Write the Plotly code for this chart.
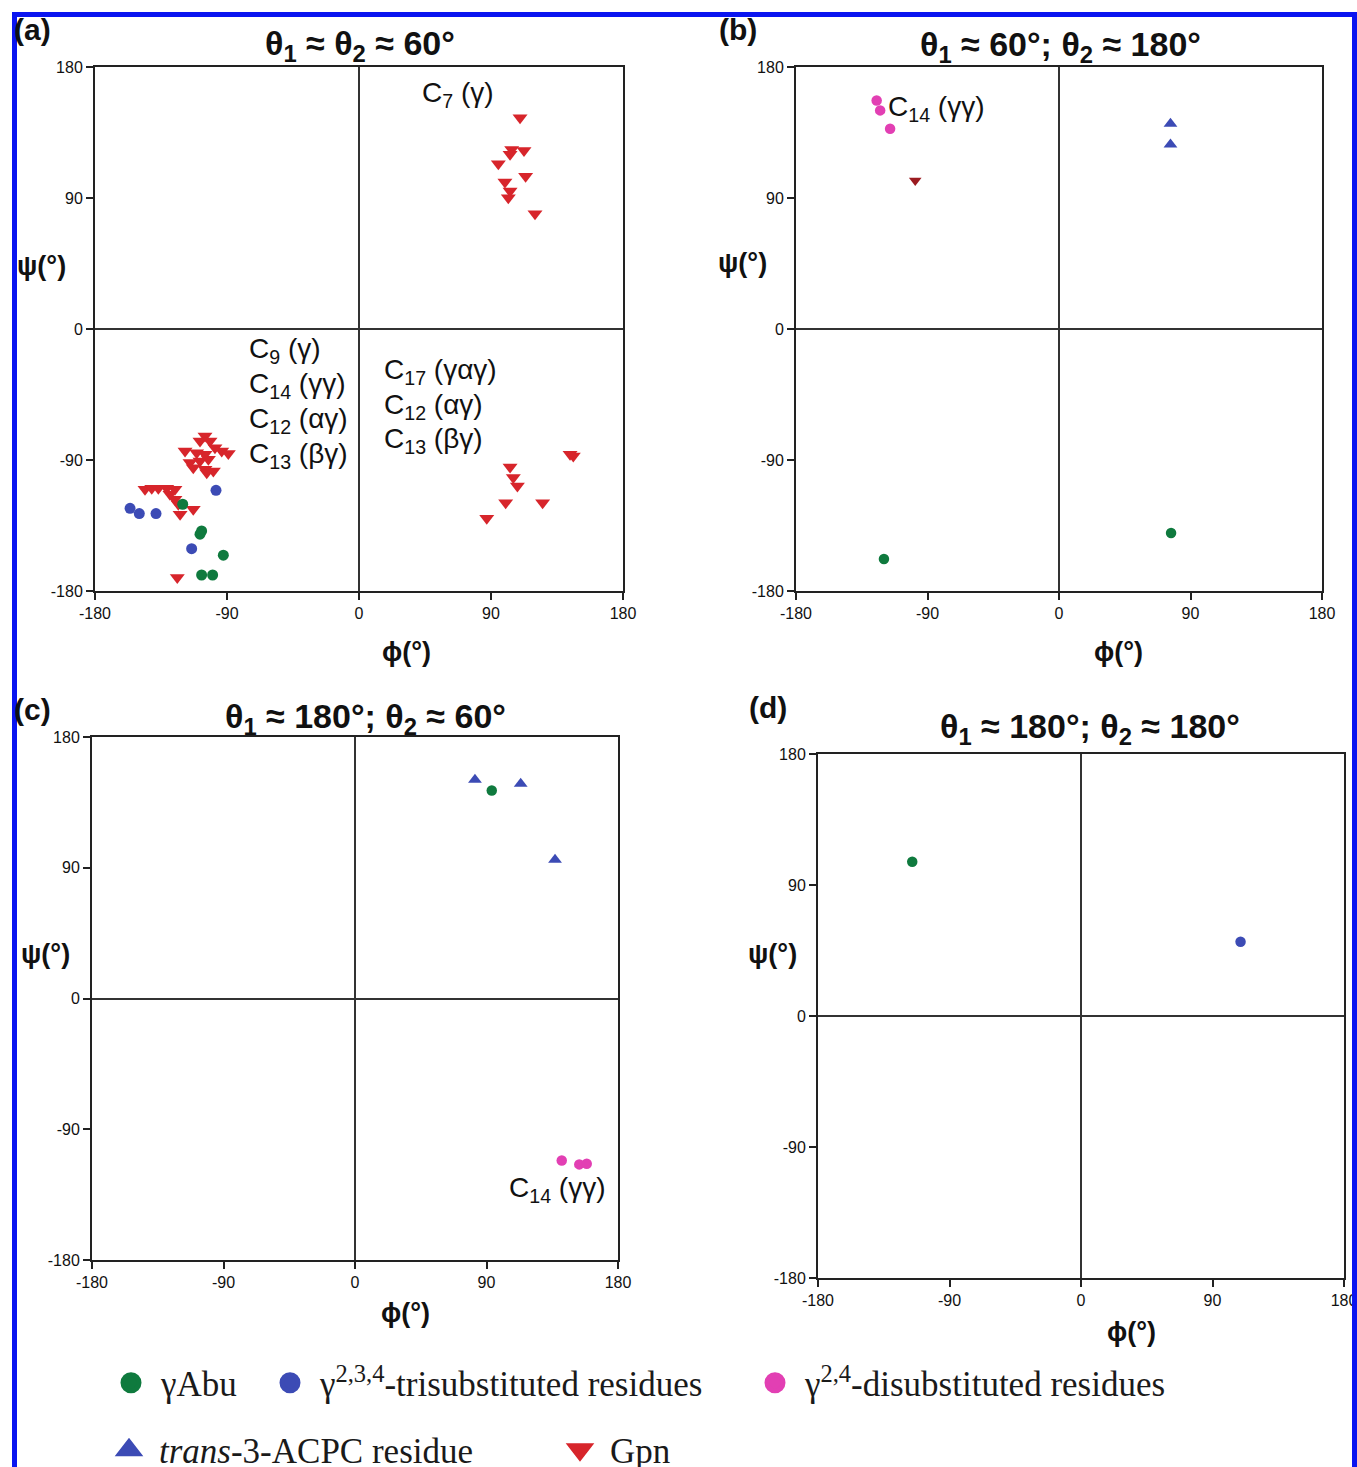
import plotly.graph_objects as go

W, H = 1357, 1467

# ---------------- data ----------------
# Panel (a): theta1 ~ theta2 ~ 60
a_gpn_phi = [109.8, 104.1, 103.0, 112.5, 95.0, 113.6, 99.5, 103.0, 101.8, 120.0,
             146.1, 143.9, 103.0, 105.2, 108.0, 100.0, 125.2, 87.1,
             -105.0, -108.4, -101.6, -98.2, -118.6, -110.7, -105.0, -93.6, -89.1,
             -115.2, -108.4, -102.7, -113.0, -105.0, -99.3, -103.8,
             -145.9, -141.3, -136.8, -131.1, -125.5, -128.9, -125.5, -123.2,
             -113.0, -122.0, -123.9]
a_gpn_psi = [145.1, 123.4, 120.0, 122.7, 113.5, 105.0, 101.0, 94.8, 90.2, 79.2,
             -87.2, -86.1, -94.8, -102.1, -107.8, -119.3, -119.3, -130.0,
             -73.5, -76.9, -76.9, -81.5, -83.8, -85.0, -86.1, -83.8, -85.6,
             -91.8, -90.7, -89.5, -95.3, -96.4, -97.5, -98.7,
             -110.1, -109.4, -109.4, -109.4, -110.1, -113.5, -117.0, -120.4,
             -123.8, -127.3, -170.8]
a_abu_phi = [-120.2, -107.3, -108.4, -92.5, -107.3, -99.8]
a_abu_psi = [-120.4, -138.7, -141.0, -155.4, -169.0, -169.0]
a_tri_phi = [-97.5, -156.1, -149.8, -138.4, -114.1]
a_tri_psi = [-110.8, -123.2, -126.8, -126.8, -150.9]

# Panel (b): theta1 ~ 60; theta2 ~ 180
b_di_phi = [-124.8, -122.4, -115.6]
b_di_psi = [157.0, 150.2, 137.6]
b_gpn_phi = [-98.4]
b_gpn_psi = [102.1]
b_acpc_phi = [76.3, 76.3]
b_acpc_psi = [141.0, 126.8]
b_abu_phi = [-119.8, 76.7]
b_abu_psi = [-158.0, -140.1]

# Panel (c): theta1 ~ 180; theta2 ~ 60
c_acpc_phi = [82.1, 113.4, 136.9]
c_acpc_psi = [150.5, 147.8, 95.5]
c_abu_phi = [93.6]
c_abu_psi = [143.2]
c_di_phi = [141.5, 153.5, 158.6]
c_di_psi = [-111.5, -114.2, -113.8]

# Panel (d): theta1 ~ 180; theta2 ~ 180
d_abu_phi = [-115.5]
d_abu_psi = [106.0]
d_tri_phi = [109.2]
d_tri_psi = [51.0]

tick_vals = [-180, -90, 0, 90, 180]
tick_text = ["-180", "-90", "0", "90", "180"]

panel_titles = ["θ<sub>1</sub> ≈ θ<sub>2</sub> ≈ 60°",
                "θ<sub>1</sub> ≈ 60°; θ<sub>2</sub> ≈ 180°",
                "θ<sub>1</sub> ≈ 180°; θ<sub>2</sub> ≈ 60°",
                "θ<sub>1</sub> ≈ 180°; θ<sub>2</sub> ≈ 180°"]
panel_letters = ["(a)", "(b)", "(c)", "(d)"]

legend_labels = ["γAbu", "γ<sup>2,3,4</sup>-trisubstituted residues",
                 "γ<sup>2,4</sup>-disubstituted residues",
                 "<i>trans</i>-3-ACPC residue", "Gpn"]

# ---------------- styling ----------------
GREEN = "#0f7a3e"
BLUE = "#3c4bb5"
PINK = "#e23fb3"
RED = "#d7252b"
DRED = "#9b1b20"
SANS = "Liberation Sans, Arial, sans-serif"
SERIF = "Liberation Serif, Times New Roman, serif"

def px2fx(p):
    return p / W

def py2fy(p):
    return 1 - p / H

# axis domains (pixel boxes)
boxes = {
    1: (95, 623, 67, 591),
    2: (796, 1322, 67, 591),
    3: (92, 618, 737, 1260),
    4: (818, 1344, 754, 1278),
}

fig = go.Figure()

def add(panel, xs, ys, color, symbol, size):
    sfx = "" if panel == 1 else str(panel)
    fig.add_trace(go.Scatter(
        x=xs, y=ys, mode="markers", showlegend=False,
        xaxis="x" + sfx, yaxis="y" + sfx,
        marker=dict(color=color, symbol=symbol, size=size, line=dict(width=0)),
        hoverinfo="x+y"))

add(1, a_gpn_phi, a_gpn_psi, RED, "triangle-down", 13)
add(1, a_abu_phi, a_abu_psi, GREEN, "circle", 11)
add(1, a_tri_phi, a_tri_psi, BLUE, "circle", 11)

add(2, b_di_phi, b_di_psi, PINK, "circle", 10.5)
add(2, b_gpn_phi, b_gpn_psi, DRED, "triangle-down", 11)
add(2, b_acpc_phi, b_acpc_psi, BLUE, "triangle-up", 12)
add(2, b_abu_phi, b_abu_psi, GREEN, "circle", 10.5)

add(3, c_acpc_phi, c_acpc_psi, BLUE, "triangle-up", 12)
add(3, c_abu_phi, c_abu_psi, GREEN, "circle", 10.5)
add(3, c_di_phi, c_di_psi, PINK, "circle", 10.5)

add(4, d_abu_phi, d_abu_psi, GREEN, "circle", 10.5)
add(4, d_tri_phi, d_tri_psi, BLUE, "circle", 10.5)

# legend entries (legend-only traces)
leg_colors = [GREEN, BLUE, PINK, BLUE, RED]
leg_symbols = ["circle", "circle", "circle", "triangle-up", "triangle-down"]
leg_names = ["legend", "legend2", "legend3", "legend4", "legend5"]
for lab, col, sym, ln in zip(legend_labels, leg_colors, leg_symbols, leg_names):
    fig.add_trace(go.Scatter(
        x=[None], y=[None], mode="markers", name=lab, legend=ln,
        marker=dict(color=col, symbol=sym, size=16, line=dict(color=col, width=5)),
        showlegend=True))

# legend positions (left edge px, center y px)
leg_pos = [(101, 1383), (260, 1383), (745, 1383), (99, 1450), (550, 1450)]

layout = dict(
    template="none",
    width=W, height=H, autosize=False,
    margin=dict(l=0, r=0, t=0, b=0, pad=0, autoexpand=False),
    paper_bgcolor="white", plot_bgcolor="white",
    font=dict(family=SANS, color="#1a1a1a"),
)
for ln, (lx, ly) in zip(leg_names, leg_pos):
    layout[ln] = dict(x=px2fx(lx), y=py2fy(ly), xanchor="left", yanchor="middle",
                      xref="container", yref="container",
                      orientation="h", bgcolor="rgba(0,0,0,0)", borderwidth=0,
                      font=dict(family=SERIF, size=35, color="#1a1a1a"),
                      itemwidth=50)

for k, (x0, x1, y0, y1) in boxes.items():
    sfx = "" if k == 1 else str(k)
    ax = dict(range=[-180, 180], tickvals=tick_vals, ticktext=tick_text,
              showline=True, linecolor="#222", linewidth=2, mirror=True,
              ticks="outside", ticklen=7, tickwidth=1.5, tickcolor="#222",
              showgrid=False, zeroline=True, zerolinecolor="#333", zerolinewidth=1.5,
              automargin=False, ticklabeloverflow="allow",
              tickfont=dict(size=16, color="#111"), fixedrange=True)
    layout["xaxis" + sfx] = dict(ax, domain=[px2fx(x0), px2fx(x1)],
                                 anchor="y" + sfx)
    layout["yaxis" + sfx] = dict(ax, domain=[py2fy(y1), py2fy(y0)],
                                 anchor="x" + sfx)

fig.update_layout(**layout)

ann = []
def text(x, y, s, size, bold=False, family=SANS, xanchor="center"):
    ann.append(dict(x=px2fx(x), y=py2fy(y), xref="paper", yref="paper",
                    text=("<b>%s</b>" % s) if bold else s, showarrow=False,
                    xanchor=xanchor, yanchor="middle",
                    font=dict(size=size, family=family, color="#111")))

# panel letters
for s, (x, y) in zip(panel_letters, [(12, 29), (717, 29), (12, 709), (747, 707)]):
    text(x, y, s, 30, bold=True, xanchor="left")
# titles
for s, (x, y) in zip(panel_titles, [(360, 45), (1060, 47), (365, 718), (1090, 728)]):
    text(x, y, s, 34, bold=True)
# axis titles
for (x, y) in [(41, 266), (742, 263), (45, 954), (772, 954)]:
    text(x, y, "ψ(°)", 27, bold=True)
for (x, y) in [(406, 652), (1118, 652), (405, 1313), (1131, 1332)]:
    text(x, y, "ϕ(°)", 27, bold=True)

# in-plot annotations
FS = 28
text(420, 95, "C<sub>7</sub> (γ)", FS, xanchor="left")
for s, y in zip(["C<sub>9</sub> (γ)", "C<sub>14</sub> (γγ)",
                 "C<sub>12</sub> (αγ)", "C<sub>13</sub> (βγ)"],
                [350, 385, 420, 455]):
    text(247, y, s, FS, xanchor="left")
for s, y in zip(["C<sub>17</sub> (γαγ)", "C<sub>12</sub> (αγ)",
                 "C<sub>13</sub> (βγ)"], [372, 406, 440]):
    text(382, y, s, FS, xanchor="left")
text(886, 108, "C<sub>14</sub> (γγ)", FS, xanchor="left")
text(507, 1189, "C<sub>14</sub> (γγ)", FS, xanchor="left")

fig.update_layout(annotations=ann)

# blue frame
fig.add_shape(type="rect", xref="paper", yref="paper",
              x0=px2fx(14.5), x1=px2fx(1354.5), y0=py2fy(1500), y1=py2fy(14.5),
              line=dict(color="#0a14f0", width=5), fillcolor="rgba(0,0,0,0)",
              layer="above")

fig.write_html("out.html", config={"displayModeBar": False},
               post_script="document.body.style.margin='0';")
